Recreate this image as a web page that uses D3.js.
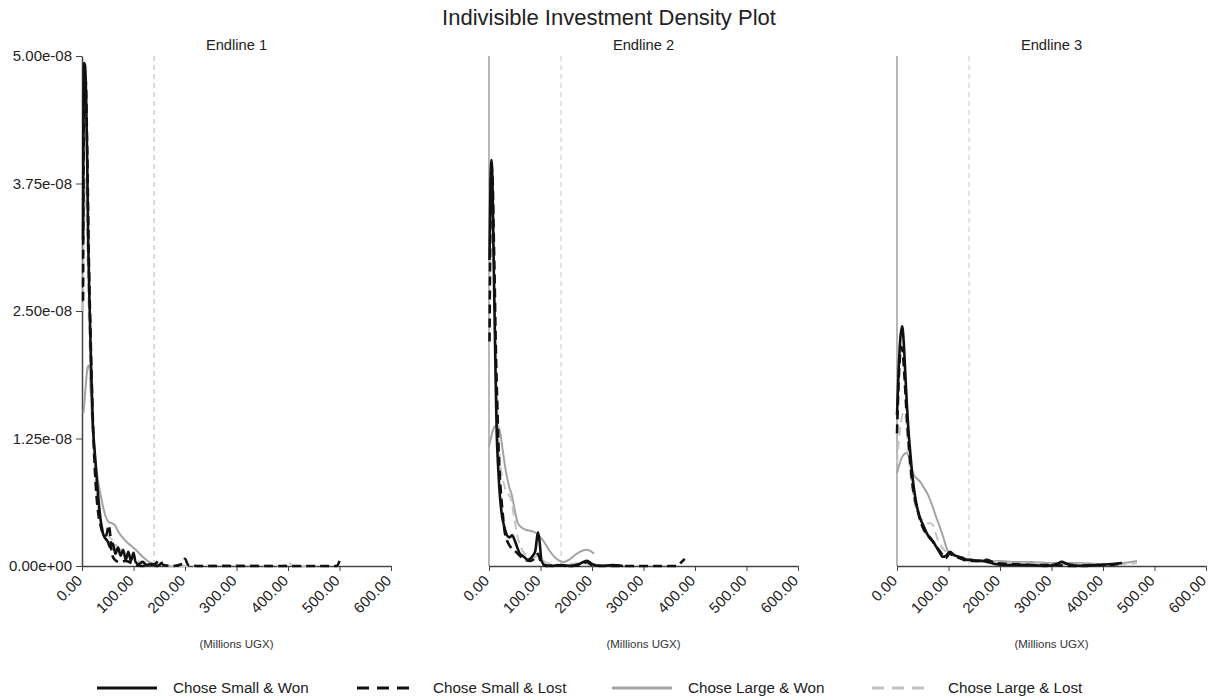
<!DOCTYPE html>
<html>
<head>
<meta charset="utf-8">
<script src="https://cdn.jsdelivr.net/npm/d3@7"></script>
<style>
  body { margin: 0; background: #fff; }
  svg { font-family: "Liberation Sans", Arial, sans-serif; }
</style>
</head>
<body>
<svg id="chart" width="1217" height="700"></svg>
<script>
// density values are in units of 1e-8
var UNIT = 1e-8;

var panels = ["Endline 1", "Endline 2", "Endline 3"];
var seriesNames = ["Chose Small & Won", "Chose Small & Lost", "Chose Large & Won", "Chose Large & Lost"];
var xTicks = [0, 100, 200, 300, 400, 500, 600];
var yTicks = [0, 1.25e-8, 2.5e-8, 3.75e-8, 5e-8];
var cutoff = 140;

// Endline 1
var e1SmallWon = [[2,3.2],[3,4.4],[4,4.93],[6,4.9],[8,4.6],[10,4.0],[12,3.2],[15,2.5],[18,1.9],[21,1.4],[25,1.1],[28,0.9],[32,0.65],[37,0.42],[42,0.3],[50,0.24],[55,0.18],[60,0.22],[65,0.12],[70,0.18],[75,0.1],[80,0.16],[85,0.06],[90,0.14],[95,0.05],[100,0.13],[104,0.04],[110,0.02],[118,0.04],[125,0.01],[135,0.02],[145,0.0],[155,0.03]];
var e1SmallLost = [[2,2.6],[3,4.0],[5,4.7],[7,4.8],[9,4.4],[11,3.8],[13,3.1],[16,2.4],[19,1.8],[22,1.3],[25,0.95],[28,0.7],[32,0.5],[37,0.38],[42,0.3],[47,0.3],[52,0.4],[55,0.3],[58,0.12],[64,0.06],[72,0.04],[85,0.05],[100,0.02],[115,0.0],[130,0.01],[142,0.02],[150,0.06],[158,0.01],[175,0.0],[195,0.02],[200,0.07],[206,0.01],[230,0.0],[300,0.0],[400,0.0],[495,0.0],[500,0.05]];
var e1LargeWon = [[3,1.5],[7,1.75],[11,1.95],[14,1.97],[17,1.7],[20,1.4],[24,1.15],[28,0.95],[33,0.78],[38,0.65],[45,0.5],[52,0.43],[58,0.42],[64,0.4],[70,0.34],[80,0.27],[90,0.22],[100,0.18],[110,0.13],[120,0.08],[130,0.04],[140,0.02],[150,0.01]];
var e1LargeLost = [[2,2.5],[4,3.5],[6,3.8],[9,3.4],[12,2.7],[15,2.1],[18,1.6],[22,1.15],[26,0.85],[30,0.62],[35,0.48],[40,0.38],[50,0.3],[60,0.25],[70,0.18],[80,0.14],[90,0.1],[100,0.07],[120,0.03],[140,0.01],[200,0.0],[300,0.01],[390,0.0],[400,0.04],[410,0.0],[450,0.0]];

// Endline 2
var e2SmallWon = [[1,3.0],[3,3.8],[5,3.98],[7,3.7],[9,3.0],[11,2.4],[13,1.8],[15,1.3],[18,0.95],[21,0.7],[25,0.5],[30,0.38],[35,0.3],[40,0.28],[45,0.3],[50,0.25],[55,0.18],[60,0.12],[65,0.1],[70,0.08],[75,0.06],[80,0.07],[85,0.1],[90,0.15],[95,0.33],[98,0.25],[102,0.05],[108,0.01],[120,0.0],[140,0.01],[160,0.0],[175,0.02],[190,0.05],[200,0.02],[215,0.0],[240,0.01],[260,0.0]];
var e2SmallLost = [[1,2.2],[3,3.5],[5,3.9],[7,3.8],[9,3.3],[11,2.8],[13,2.2],[16,1.6],[19,1.1],[22,0.8],[26,0.55],[30,0.35],[35,0.25],[40,0.2],[50,0.15],[60,0.1],[70,0.06],[80,0.05],[90,0.08],[95,0.12],[100,0.05],[110,0.0],[130,0.01],[150,0.0],[180,0.01],[190,0.04],[200,0.01],[230,0.0],[280,0.0],[330,0.0],[365,0.0],[372,0.03],[380,0.07]];
var e2LargeWon = [[0,1.17],[5,1.28],[10,1.36],[17,1.38],[22,1.3],[27,1.12],[33,0.92],[39,0.78],[44,0.7],[50,0.55],[56,0.42],[65,0.37],[75,0.35],[85,0.34],[95,0.31],[105,0.25],[115,0.17],[125,0.1],[134,0.06],[144,0.04],[155,0.06],[165,0.1],[177,0.14],[188,0.16],[196,0.15],[204,0.12]];
var e2LargeLost = [[1,2.8],[3,3.4],[5,3.6],[8,3.3],[11,2.6],[14,1.9],[18,1.3],[22,1.0],[27,0.85],[32,0.75],[38,0.7],[43,0.65],[48,0.5],[55,0.3],[65,0.15],[75,0.1],[85,0.08],[95,0.1],[105,0.05],[120,0.02],[140,0.01],[160,0.02],[180,0.03],[200,0.01],[230,0.0]];

// Endline 3
var e3SmallWon = [[0,1.48],[3,1.9],[6,2.2],[10,2.35],[13,2.2],[16,1.9],[19,1.6],[22,1.35],[26,1.1],[30,0.88],[34,0.72],[38,0.6],[44,0.48],[51,0.4],[58,0.32],[64,0.27],[70,0.24],[76,0.19],[82,0.14],[89,0.09],[95,0.1],[103,0.14],[110,0.11],[120,0.09],[128,0.08],[135,0.06],[142,0.06],[155,0.05],[165,0.05],[175,0.04],[190,0.02],[210,0.01],[230,0.01],[260,0.01],[290,0.0],[310,0.02],[320,0.04],[330,0.02],[360,0.0],[390,0.01],[420,0.02],[437,0.03]];
var e3SmallLost = [[0,1.3],[4,1.9],[8,2.15],[11,2.1],[14,1.9],[18,1.55],[22,1.25],[26,1.0],[30,0.8],[35,0.65],[40,0.55],[45,0.45],[50,0.38],[55,0.33],[60,0.3],[66,0.27],[72,0.22],[78,0.18],[84,0.14],[90,0.1],[95,0.08],[102,0.12],[110,0.1],[120,0.08],[130,0.06],[145,0.05],[160,0.05],[175,0.06],[190,0.03],[220,0.02],[260,0.01],[300,0.01],[340,0.0],[380,0.01],[410,0.01],[430,0.02]];
var e3LargeWon = [[0,0.91],[5,1.0],[10,1.07],[15,1.1],[19,1.11],[24,1.05],[28,0.96],[33,0.89],[40,0.85],[46,0.82],[52,0.77],[60,0.7],[68,0.6],[76,0.48],[84,0.37],[90,0.28],[96,0.18],[102,0.12],[110,0.1],[120,0.09],[130,0.07],[145,0.06],[160,0.05],[180,0.05],[200,0.05],[230,0.04],[260,0.04],[300,0.03],[350,0.03],[400,0.02],[440,0.03],[466,0.05]];
var e3LargeLost = [[0,1.0],[4,1.25],[8,1.42],[12,1.5],[15,1.5],[18,1.4],[21,1.2],[25,0.95],[30,0.75],[35,0.6],[40,0.52],[45,0.48],[50,0.45],[55,0.44],[60,0.42],[65,0.42],[70,0.4],[75,0.32],[80,0.25],[88,0.18],[95,0.14],[105,0.12],[115,0.1],[125,0.08],[140,0.07],[160,0.06],[180,0.05],[200,0.04],[230,0.03],[260,0.03],[300,0.02],[340,0.02],[380,0.01],[420,0.01],[450,0.02],[466,0.03]];

var panelData = [
    [e1SmallWon, e1SmallLost, e1LargeWon, e1LargeLost],
    [e2SmallWon, e2SmallLost, e2LargeWon, e2LargeLost],
    [e3SmallWon, e3SmallLost, e3LargeWon, e3LargeLost]
];

var seriesStyle = [
    {color: "#111", width: 2.6, dash: null},
    {color: "#111", width: 2.6, dash: "9,5"},
    {color: "#a3a3a3", width: 2, dash: null},
    {color: "#c4c4c4", width: 2, dash: "9,5"}
];
var drawOrder = [2, 3, 1, 0];

var svg = d3.select("#chart");
var panelLeft = [82, 489, 897];
var plotWidth = 309;
var plotTop = 56, plotBottom = 566;

var y = d3.scaleLinear().domain([0, 5e-8]).range([plotBottom, plotTop]);

function sciFormat(v) {
    return d3.format(".2e")(v).replace(/e([+-])(\d)$/, "e$10$2");
}

svg.append("text")
    .attr("x", 609).attr("y", 25)
    .attr("text-anchor", "middle")
    .style("font-size", "22px")
    .style("fill", "#222")
    .text("Indivisible Investment Density Plot");

panels.forEach(function(name, p) {
    var left = panelLeft[p];
    var x = d3.scaleLinear().domain([0, 600]).range([left, left + plotWidth]);
    var g = svg.append("g");

    g.append("text")
        .attr("x", left + plotWidth / 2).attr("y", 50)
        .attr("text-anchor", "middle")
        .style("font-size", "14.7px")
        .style("fill", "#222")
        .text(name);

    // cutoff marker
    g.append("line")
        .attr("x1", x(cutoff)).attr("x2", x(cutoff))
        .attr("y1", plotTop).attr("y2", plotBottom)
        .attr("stroke", "#d0d0d0")
        .attr("stroke-width", p === 0 ? 1.6 : 1.2)
        .attr("stroke-dasharray", "5,4");

    // y axis
    if (p === 0) {
        var yAxis = g.append("g")
            .attr("transform", "translate(" + left + ",0)")
            .call(d3.axisLeft(y).tickValues(yTicks).tickFormat(sciFormat).tickSize(6).tickPadding(4).tickSizeOuter(0));
        yAxis.selectAll("text").style("font-size", "15px").style("fill", "#222");
        yAxis.selectAll("path, line").attr("stroke", "#444");
        yAxis.select(".domain").attr("stroke-width", 1.5);
    } else {
        g.append("line")
            .attr("x1", left).attr("x2", left)
            .attr("y1", plotTop).attr("y2", plotBottom)
            .attr("stroke", "#888").attr("stroke-width", 1.2);
    }

    // x axis
    var xAxis = g.append("g")
        .attr("transform", "translate(0," + plotBottom + ")")
        .call(d3.axisBottom(x).tickValues(xTicks).tickFormat(d3.format(".2f")).tickSize(5).tickSizeOuter(0));
    xAxis.select(".domain").attr("stroke", "#444").attr("stroke-width", 1.5);
    xAxis.selectAll("line").attr("stroke", "#444");
    xAxis.selectAll("text")
        .style("font-size", "15px")
        .style("fill", "#222")
        .attr("text-anchor", "end")
        .attr("dy", "0.35em")
        .attr("transform", "translate(-3,12) rotate(-45)")
        .attr("x", 0).attr("y", 0);

    g.append("text")
        .attr("x", left + plotWidth / 2).attr("y", 648)
        .attr("text-anchor", "middle")
        .style("font-size", "11.5px")
        .style("fill", "#333")
        .text("(Millions UGX)");

    var line = d3.line()
        .x(function(d) { return x(d[0]); })
        .y(function(d) { return y(d[1] * UNIT); })
        .curve(d3.curveMonotoneX);

    drawOrder.forEach(function(s) {
        var st = seriesStyle[s];
        g.append("path")
            .datum(panelData[p][s])
            .attr("d", line)
            .attr("fill", "none")
            .attr("stroke", st.color)
            .attr("stroke-width", st.width)
            .attr("stroke-linejoin", "round")
            .attr("stroke-dasharray", st.dash);
    });
});

// legend
var legendX = [97, 357, 612, 872];
var legend = svg.append("g");
seriesNames.forEach(function(name, s) {
    var st = seriesStyle[s];
    legend.append("line")
        .attr("x1", legendX[s]).attr("x2", legendX[s] + 60)
        .attr("y1", 688).attr("y2", 688)
        .attr("stroke", st.color)
        .attr("stroke-width", 3)
        .attr("stroke-dasharray", st.dash ? "12,8" : null);
    legend.append("text")
        .attr("x", legendX[s] + 76).attr("y", 693)
        .style("font-size", "15.2px")
        .style("fill", "#222")
        .text(name);
});
</script>
</body>
</html>
